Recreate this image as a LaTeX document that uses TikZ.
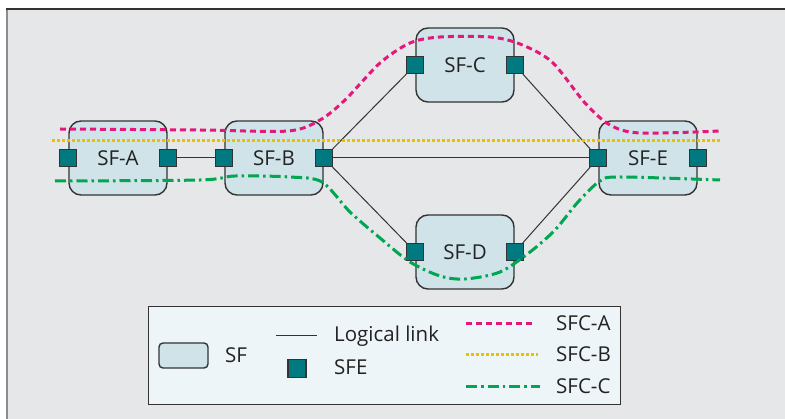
\documentclass[tikz,border=0pt]{standalone}
\usepackage{fontspec}
\setmainfont{Open Sans}
\usetikzlibrary{positioning}
\definecolor{sfBack}{HTML}{E6E7E9}
\definecolor{sfFrame}{HTML}{8C8C8C}
\definecolor{sfLine}{HTML}{333333}
\definecolor{sfText}{HTML}{222222}
\definecolor{sfFill}{HTML}{CFE3E8}
\definecolor{sfLegend}{HTML}{EEF5F8}
\definecolor{sfTeal}{HTML}{007A80}
\definecolor{sfPink}{HTML}{E5177B}
\definecolor{sfYellow}{HTML}{EAC100}
\definecolor{sfGreen}{HTML}{00A651}

\begin{document}
\begin{tikzpicture}[x=1pt,y=-1pt,
  font=\fontsize{20.5}{24}\selectfont,
  sf/.style={draw=sfLine, line width=1.4pt, fill=sfFill, rounded corners=12pt,
    minimum width=98pt, minimum height=74pt, text=sfText},
  sfe/.style={draw=sfLine, line width=1.2pt, fill=sfTeal, minimum size=17pt, inner sep=0pt},
  link/.style={sfLine, line width=1pt},
  key/.style={anchor=base west, inner sep=0pt, text=sfText},
  chainA/.style={sfPink, line width=3pt, dash pattern=on 6pt off 4pt},
  chainB/.style={sfYellow, line width=3pt, dash pattern=on 2.6pt off 2.4pt},
  chainC/.style={sfGreen, line width=3pt, dash pattern=on 11pt off 4pt on 2.5pt off 4pt}]
  \useasboundingbox (0,0) rectangle (785,419);
  \fill[sfBack] (7,9) rectangle (785,419);
  \draw[sfFrame, line width=2.2pt] (7,9) -- (7,419);
  \draw[sfLine, line width=1.5pt] (6,9) -- (785,9);

  \foreach \n/\x/\y in {A/118/158, B/274/158, C/465/65, D/465/252, E/648/158}{
    \node[sf] (sf\n) at (\x,\y) {SF-\n};
    \node[sfe] (sf\n-l) at (sf\n.west) {};
    \node[sfe] (sf\n-r) at (sf\n.east) {};
  }
  \foreach \a/\b in {A-r/B-l, B-r/C-l, B-r/D-l, B-r/E-l, C-r/E-l, D-r/E-l}
    \draw[link] (sf\a) -- (sf\b);

  \draw[chainA] plot[smooth, tension=0.5] coordinates {(60,129) (200,130) (288,131)
    (320,120) (345,100) (380,63) (410,43) (440,37) (490,37) (520,44) (552,62)
    (585,103) (610,125) (640,133) (720,131)};
  \draw[chainB] (52,141) -- (720,141);
  \draw[chainC] plot[smooth, tension=0.5] coordinates {(55,181) (200,180) (235,176)
    (290,177) (322,182) (350,212) (380,238) (410,262) (440,276) (465,279) (500,272)
    (530,252) (555,230) (578,202) (600,181) (620,177) (720,180)};

  \node[draw=sfLine, line width=1pt, fill=sfLegend, minimum width=472pt,
    minimum height=98pt] (legend) at (384,356) {};
  \node[sf, minimum width=49pt, minimum height=25pt, rounded corners=4pt] (keySF) at (183.5,355.5) {};
  \node[key] (keySFtxt) at (225,362.5) {SF};
  \draw[link] (276,336) -- (317,336);
  \node[key] (keyLink) at (334,341.5) {Logical link};
  \node[sfe, minimum size=18pt] (keySFE) at (297,368.5) {};
  \node[key] (keySFEtxt) at (334,375) {SFE};
  \foreach \c/\y/\l/\e in {chainA/324/SFC-A/535, chainB/355/SFC-B/538, chainC/387/SFC-C/540}{
    \draw[\c] (466,\y) -- (\e,\y);
    \node[key] (key\l) at (556,\y+7) {\l};
  }
\end{tikzpicture}
\end{document}
